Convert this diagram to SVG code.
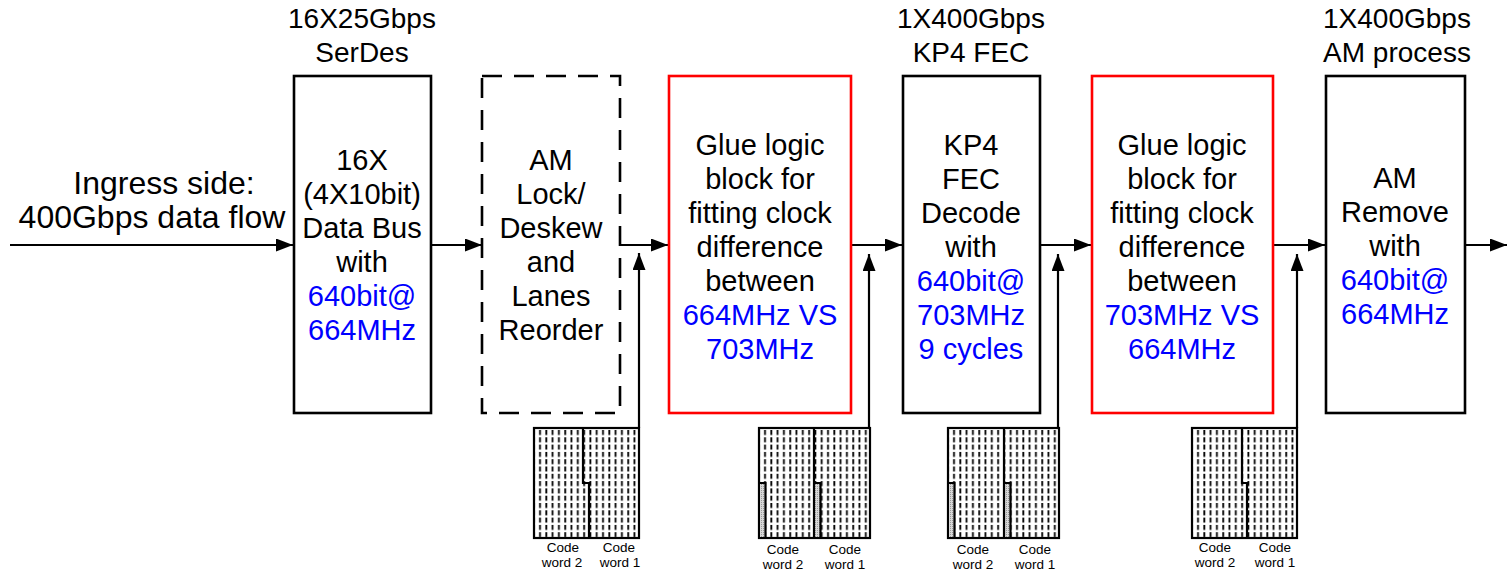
<svg xmlns="http://www.w3.org/2000/svg" width="1507" height="572" viewBox="0 0 1507 572">
  <style>
    text { font-family: "Liberation Sans", Arial, sans-serif; fill: #000; }
    .h { font-size: 28px; text-anchor: middle; }
    .t { font-size: 29px; text-anchor: middle; }
    .in { font-size: 32px; text-anchor: middle; }
    .b { fill: #0000ff; }
    .s { font-size: 13.5px; text-anchor: middle; }
    .box { fill: #fff; stroke: #000; stroke-width: 2.6; }
    .red { fill: #fff; stroke: #ff0000; stroke-width: 2.6; }
    .dash { fill: #fff; stroke: #000; stroke-width: 2.6; stroke-dasharray: 20 12; }
    .wire { fill: none; stroke: #000; stroke-width: 2.2; }
    .frame { fill: url(#ticks); stroke: #000; stroke-width: 2.2; }
    .strip { fill: url(#hatch); stroke: none; }
  </style>
  <defs>
    <marker id="arrow" viewBox="0 0 17 13" refX="17" refY="6.5" markerWidth="17" markerHeight="13" markerUnits="userSpaceOnUse" orient="auto">
      <path d="M0,0 L17,6.5 L0,13 Z" fill="#000"/>
    </marker>
    <!-- short vertical ticks that fill a code word -->
    <pattern id="ticks" patternUnits="userSpaceOnUse" x="3" y="2" width="6.3" height="7.3">
      <rect width="6.3" height="7.3" fill="#fff"/>
      <line x1="3" y1="0" x2="3" y2="5" stroke="#000" stroke-width="1.8"/>
    </pattern>
    <pattern id="hatch" patternUnits="userSpaceOnUse" width="2" height="2">
      <rect width="2" height="2" fill="#d8d8d8"/>
      <rect width="1" height="1" fill="#9a9a9a"/>
    </pattern>
  </defs>

  <!-- connectors -->
  <g id="connectors" class="wire">
    <line x1="10" y1="245" x2="293" y2="245" marker-end="url(#arrow)"/>
    <line x1="431" y1="245" x2="482" y2="245" marker-end="url(#arrow)"/>
    <line x1="620" y1="245" x2="668" y2="245" marker-end="url(#arrow)"/>
    <line x1="851" y1="245" x2="902" y2="245" marker-end="url(#arrow)"/>
    <line x1="1040" y1="245" x2="1091" y2="245" marker-end="url(#arrow)"/>
    <line x1="1273" y1="245" x2="1325" y2="245" marker-end="url(#arrow)"/>
    <line x1="1465" y1="245" x2="1507" y2="245" marker-end="url(#arrow)"/>
    <line x1="639" y1="428" x2="639" y2="253" marker-end="url(#arrow)"/>
    <line x1="869" y1="428" x2="869" y2="254" marker-end="url(#arrow)"/>
    <line x1="1058" y1="428" x2="1058" y2="254" marker-end="url(#arrow)"/>
    <line x1="1297" y1="428" x2="1297" y2="254" marker-end="url(#arrow)"/>
  </g>

  <!-- input label -->
  <g id="ingress">
    <text class="in" x="164" y="194">Ingress side:</text>
    <text class="in" x="152" y="228">400Gbps data flow</text>
  </g>

  <g id="serdes">
    <text class="h" x="362" y="28">16X25Gbps</text>
    <text class="h" x="362" y="62">SerDes</text>
    <rect class="box" x="294" y="76" width="137" height="337"/>
    <text class="t" x="362" y="170">16X</text>
    <text class="t" x="362" y="204">(4X10bit)</text>
    <text class="t" x="362" y="238">Data Bus</text>
    <text class="t" x="362" y="272">with</text>
    <text class="t b" x="362" y="306">640bit@</text>
    <text class="t b" x="362" y="340">664MHz</text>
  </g>

  <g id="am-lock">
    <rect class="dash" x="482" y="76" width="138" height="337"/>
    <text class="t" x="551" y="170">AM</text>
    <text class="t" x="551" y="204">Lock/</text>
    <text class="t" x="551" y="238">Deskew</text>
    <text class="t" x="551" y="272">and</text>
    <text class="t" x="551" y="306">Lanes</text>
    <text class="t" x="551" y="340">Reorder</text>
  </g>

  <g id="glue-1">
    <rect class="red" x="669" y="76" width="182" height="337"/>
    <text class="t" x="760" y="155">Glue logic</text>
    <text class="t" x="760" y="189">block for</text>
    <text class="t" x="760" y="223">fitting clock</text>
    <text class="t" x="760" y="257">difference</text>
    <text class="t" x="760" y="291">between</text>
    <text class="t b" x="760" y="325">664MHz VS</text>
    <text class="t b" x="760" y="359">703MHz</text>
  </g>

  <g id="kp4-fec">
    <text class="h" x="971" y="28">1X400Gbps</text>
    <text class="h" x="971" y="62">KP4 FEC</text>
    <rect class="box" x="903" y="76" width="137" height="337"/>
    <text class="t" x="971" y="155">KP4</text>
    <text class="t" x="971" y="189">FEC</text>
    <text class="t" x="971" y="223">Decode</text>
    <text class="t" x="971" y="257">with</text>
    <text class="t b" x="971" y="291">640bit@</text>
    <text class="t b" x="971" y="325">703MHz</text>
    <text class="t b" x="971" y="359">9 cycles</text>
  </g>

  <g id="glue-2">
    <rect class="red" x="1092" y="76" width="181" height="337"/>
    <text class="t" x="1182" y="155">Glue logic</text>
    <text class="t" x="1182" y="189">block for</text>
    <text class="t" x="1182" y="223">fitting clock</text>
    <text class="t" x="1182" y="257">difference</text>
    <text class="t" x="1182" y="291">between</text>
    <text class="t b" x="1182" y="325">703MHz VS</text>
    <text class="t b" x="1182" y="359">664MHz</text>
  </g>

  <g id="am-remove">
    <text class="h" x="1397" y="28">1X400Gbps</text>
    <text class="h" x="1397" y="62">AM process</text>
    <rect class="box" x="1326" y="76" width="139" height="337"/>
    <text class="t" x="1395" y="188">AM</text>
    <text class="t" x="1395" y="222">Remove</text>
    <text class="t" x="1395" y="256">with</text>
    <text class="t b" x="1395" y="290">640bit@</text>
    <text class="t b" x="1395" y="324">664MHz</text>
  </g>

  <!-- code word pairs, each drawn in local coordinates -->
  <g id="codewords-1" transform="translate(534,428)">
    <rect class="frame" x="0" y="0" width="105" height="110"/>
    <path class="wire" d="M49,0 V55 H55 V110"/>
    <text class="s" x="29" y="124">Code</text>
    <text class="s" x="28" y="139">word 2</text>
    <text class="s" x="85" y="124">Code</text>
    <text class="s" x="86" y="139">word 1</text>
  </g>

  <g id="codewords-2" transform="translate(759,428)">
    <rect class="frame" x="0" y="0" width="111" height="110"/>
    <rect class="strip" x="1" y="55" width="5" height="54"/>
    <rect class="strip" x="56" y="55" width="5" height="54"/>
    <path class="wire" d="M0,55 H6.5 V110 M55,0 V110 M55,55 H61.5 V110"/>
    <text class="s" x="24" y="126">Code</text>
    <text class="s" x="24" y="141">word 2</text>
    <text class="s" x="86" y="126">Code</text>
    <text class="s" x="86" y="141">word 1</text>
  </g>

  <g id="codewords-3" transform="translate(948,428)">
    <rect class="frame" x="0" y="0" width="111" height="110"/>
    <rect class="strip" x="1" y="55" width="5" height="54"/>
    <rect class="strip" x="56" y="55" width="5" height="54"/>
    <path class="wire" d="M0,55 H6.5 V110 M56,0 V110 M56,55 H62.5 V110"/>
    <text class="s" x="25" y="126">Code</text>
    <text class="s" x="25" y="141">word 2</text>
    <text class="s" x="87" y="126">Code</text>
    <text class="s" x="87" y="141">word 1</text>
  </g>

  <g id="codewords-4" transform="translate(1192,428)">
    <rect class="frame" x="0" y="0" width="105" height="110"/>
    <path class="wire" d="M50,0 V55 H55 V110"/>
    <text class="s" x="23" y="124">Code</text>
    <text class="s" x="23" y="139">word 2</text>
    <text class="s" x="83" y="124">Code</text>
    <text class="s" x="83" y="139">word 1</text>
  </g>
</svg>
